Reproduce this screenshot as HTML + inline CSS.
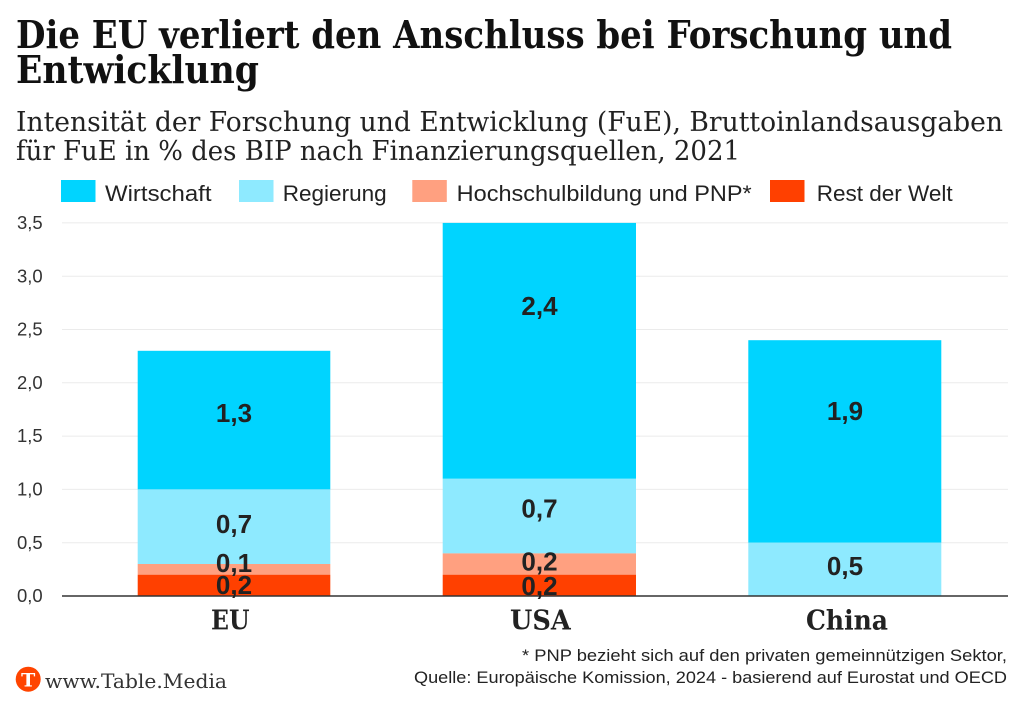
<!DOCTYPE html>
<html lang="de">
<head>
<meta charset="utf-8">
<title>Die EU verliert den Anschluss bei Forschung und Entwicklung</title>
<style>
  html, body { margin: 0; padding: 0; background: #ffffff; }
  body { width: 1024px; height: 708px; overflow: hidden; }
  svg { display: block; }
  .serif { font-family: "DejaVu Serif", "Liberation Serif", serif; }
  .sans { font-family: "Liberation Sans", "DejaVu Sans", sans-serif; }
</style>
</head>
<body>
<svg width="1024" height="708" viewBox="0 0 1024 708" xmlns="http://www.w3.org/2000/svg">
  <rect x="0" y="0" width="1024" height="708" fill="#ffffff"/>

  <!-- Title -->
  <text class="serif" x="16" y="48" font-size="38" font-weight="bold" fill="#111" textLength="936" lengthAdjust="spacingAndGlyphs">Die EU verliert den Anschluss bei Forschung und</text>
  <text class="serif" x="16" y="83" font-size="38" font-weight="bold" fill="#111" textLength="243" lengthAdjust="spacingAndGlyphs">Entwicklung</text>

  <!-- Subtitle -->
  <text class="serif" x="16" y="131" font-size="27.5" fill="#222" textLength="987" lengthAdjust="spacingAndGlyphs">Intensität der Forschung und Entwicklung (FuE), Bruttoinlandsausgaben</text>
  <text class="serif" x="16" y="160" font-size="27.5" fill="#222" textLength="724" lengthAdjust="spacingAndGlyphs">für FuE in % des BIP nach Finanzierungsquellen, 2021</text>

  <!-- Legend -->
  <rect x="61" y="180" width="34.5" height="22" fill="#00d4ff"/>
  <text class="sans" x="105" y="201" font-size="22.5" fill="#222" textLength="106.5" lengthAdjust="spacingAndGlyphs">Wirtschaft</text>
  <rect x="239" y="180" width="34.5" height="22" fill="#8eeaff"/>
  <text class="sans" x="282.7" y="201" font-size="22.5" fill="#222" textLength="104" lengthAdjust="spacingAndGlyphs">Regierung</text>
  <rect x="412.3" y="180" width="34.5" height="22" fill="#ffa080"/>
  <text class="sans" x="456.7" y="201" font-size="22.5" fill="#222" textLength="295" lengthAdjust="spacingAndGlyphs">Hochschulbildung und PNP*</text>
  <rect x="770" y="180" width="34.5" height="22" fill="#ff4000"/>
  <text class="sans" x="816.7" y="201" font-size="22.5" fill="#222" textLength="136" lengthAdjust="spacingAndGlyphs">Rest der Welt</text>

  <!-- Gridlines -->
  <g stroke="#ebebeb" stroke-width="1">
    <line x1="62" y1="222.9" x2="1008" y2="222.9"/>
    <line x1="62" y1="276.2" x2="1008" y2="276.2"/>
    <line x1="62" y1="329.5" x2="1008" y2="329.5"/>
    <line x1="62" y1="382.8" x2="1008" y2="382.8"/>
    <line x1="62" y1="436.1" x2="1008" y2="436.1"/>
    <line x1="62" y1="489.4" x2="1008" y2="489.4"/>
    <line x1="62" y1="542.7" x2="1008" y2="542.7"/>
  </g>

  <!-- Y tick labels -->
  <g class="sans" font-size="18" fill="#333">
    <text x="17" y="229" textLength="25.7" lengthAdjust="spacingAndGlyphs">3,5</text>
    <text x="17" y="282.3" textLength="25.7" lengthAdjust="spacingAndGlyphs">3,0</text>
    <text x="17" y="335.6" textLength="25.7" lengthAdjust="spacingAndGlyphs">2,5</text>
    <text x="17" y="388.9" textLength="25.7" lengthAdjust="spacingAndGlyphs">2,0</text>
    <text x="17" y="442.2" textLength="25.7" lengthAdjust="spacingAndGlyphs">1,5</text>
    <text x="17" y="495.5" textLength="25.7" lengthAdjust="spacingAndGlyphs">1,0</text>
    <text x="17" y="548.8" textLength="25.7" lengthAdjust="spacingAndGlyphs">0,5</text>
    <text x="17" y="602.1" textLength="25.7" lengthAdjust="spacingAndGlyphs">0,0</text>
  </g>

  <!-- EU bar -->
  <rect x="137.7" y="350.8" width="192.6" height="138.6" fill="#00d4ff"/>
  <rect x="137.7" y="489.4" width="192.6" height="74.6" fill="#8eeaff"/>
  <rect x="137.7" y="564.0" width="192.6" height="10.7" fill="#ffa080"/>
  <rect x="137.7" y="574.7" width="192.6" height="21.3" fill="#ff4000"/>

  <!-- USA bar -->
  <rect x="442.7" y="222.9" width="193.3" height="255.9" fill="#00d4ff"/>
  <rect x="442.7" y="478.8" width="193.3" height="74.6" fill="#8eeaff"/>
  <rect x="442.7" y="553.4" width="193.3" height="21.3" fill="#ffa080"/>
  <rect x="442.7" y="574.7" width="193.3" height="21.3" fill="#ff4000"/>

  <!-- China bar -->
  <rect x="748.3" y="340.2" width="193" height="202.5" fill="#00d4ff"/>
  <rect x="748.3" y="542.7" width="193" height="53.3" fill="#8eeaff"/>

  <!-- Axis line -->
  <line x1="62" y1="596" x2="1008" y2="596" stroke="#333" stroke-width="1.5"/>

  <!-- Value labels -->
  <g class="sans" font-size="26" font-weight="bold" fill="#222" text-anchor="middle">
    <text x="234" y="422">1,3</text>
    <text x="234" y="533">0,7</text>
    <text x="234" y="572">0,1</text>
    <text x="234" y="594">0,2</text>

    <text x="539.5" y="315">2,4</text>
    <text x="539.5" y="517.7">0,7</text>
    <text x="539.5" y="570.7">0,2</text>
    <text x="539.5" y="595">0,2</text>

    <text x="845" y="420">1,9</text>
    <text x="845" y="575">0,5</text>
  </g>

  <!-- Category labels -->
  <g class="serif" font-size="27" font-weight="bold" fill="#222">
    <text x="211" y="629.5" textLength="38.5" lengthAdjust="spacingAndGlyphs">EU</text>
    <text x="510" y="629.5" textLength="60.7" lengthAdjust="spacingAndGlyphs">USA</text>
    <text x="806" y="629.5" textLength="82" lengthAdjust="spacingAndGlyphs">China</text>
  </g>

  <!-- Footer left: logo + url -->
  <circle cx="28.2" cy="679.2" r="12.5" fill="#ff4400"/>
  <text class="serif" x="28.2" y="686.5" font-size="19" font-weight="bold" fill="#ffffff" text-anchor="middle">T</text>
  <text class="serif" x="45" y="688" font-size="20" fill="#333" textLength="182" lengthAdjust="spacingAndGlyphs">www.Table.Media</text>

  <!-- Footer right: notes -->
  <text class="sans" x="1007" y="661" font-size="17" fill="#222" text-anchor="end" textLength="485" lengthAdjust="spacingAndGlyphs">* PNP bezieht sich auf den privaten gemeinnützigen Sektor,</text>
  <text class="sans" x="1007" y="683" font-size="17" fill="#222" text-anchor="end" textLength="593" lengthAdjust="spacingAndGlyphs">Quelle: Europäische Komission, 2024 - basierend auf Eurostat und OECD</text>
</svg>
</body>
</html>
